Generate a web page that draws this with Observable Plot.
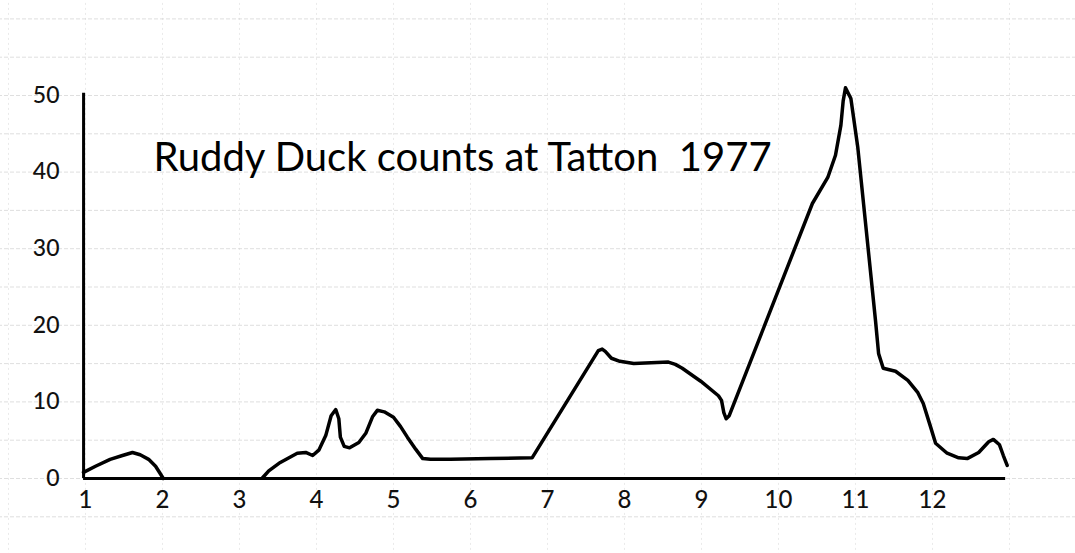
<!DOCTYPE html>
<html>
<head>
<meta charset="utf-8">
<script src="https://cdn.jsdelivr.net/npm/d3@7"></script>
<script src="https://cdn.jsdelivr.net/npm/@observablehq/plot@0.6"></script>
<style>
  html, body { margin: 0; padding: 0; background: #fff; }
  svg { display: block; }
</style>
</head>
<body>
<div id="chart"></div>
<script>
// Chart title
const title = "Ruddy Duck counts at Tatton  1977";

// Month position (1 = January ... 12 = December, fractional = within month) — hand-read
const months = [
  0.974, 1.13, 1.32, 1.48, 1.61, 1.71, 1.82, 1.91, 1.97, 2.01,
  null,
  3.30, 3.38, 3.53, 3.75, 3.86, 3.95, 4.03, 4.12, 4.19, 4.25, 4.29, 4.31, 4.36, 4.43, 4.55,
  4.64, 4.73, 4.79, 4.88, 5.0, 5.09, 5.18, 5.29, 5.38, 5.48, 5.74, 6.26, 6.80,
  7.66, 7.71, 7.75, 7.83, 7.94, 8.12, 8.57, 8.66, 8.75, 8.99, 9.22, 9.26, 9.29, 9.32, 9.36,
  10.44, 10.64, 10.74, 10.81, 10.84, 10.87,
  10.94, 11.03, 11.14, 11.26, 11.30, 11.36, 11.52, 11.68, 11.81, 11.88, 11.97, 12.04,
  12.19, 12.34, 12.45, 12.60, 12.73, 12.79, 12.87, 12.92, 12.97
];
// Ruddy duck counts (null = no line drawn)
const counts = [
  0.8, 1.6, 2.5, 3.0, 3.4, 3.1, 2.5, 1.6, 0.65, 0,
  null,
  0.1, 1.0, 2.1, 3.3, 3.4, 3.0, 3.7, 5.6, 8.2, 9.0, 7.8, 5.4, 4.2, 4.0, 4.7,
  5.9, 8.1, 8.9, 8.7, 8.0, 6.8, 5.4, 3.8, 2.6, 2.5, 2.5, 2.6, 2.7,
  16.7, 16.9, 16.6, 15.7, 15.3, 15.0, 15.2, 14.9, 14.4, 12.7, 10.8, 10.2, 8.6, 7.8, 8.2,
  35.9, 39.3, 42.2, 46.1, 49.3, 51.0,
  49.6, 43.2, 32.4, 20.6, 16.3, 14.4, 14.0, 12.8, 11.2, 9.8, 6.9, 4.6,
  3.3, 2.7, 2.6, 3.4, 4.8, 5.1, 4.4, 3.0, 1.7
];

// Tick labels
const xTicks = [1,2,3,4,5,6,7,8,9,10,11,12];
const yTicks = [0,10,20,30,40,50];

// Axis extents (hand-drawn axes)
const xAxisExtent = [0.975, 12.95];
const yAxisExtent = [0, 50.3];

// Graph-paper grid
const paperRows = d3.range(-10, 65, 5);
const paperCols = d3.range(0, 15, 1);

const data = months.map((m, i) => ({month: m, count: counts[i]}));

const font = "Lato, 'Noto Sans', sans-serif";

const chart = Plot.plot({
  width: 1075,
  height: 553,
  marginLeft: 83,
  marginRight: 0,
  marginTop: 0,
  marginBottom: 75,
  style: {fontFamily: font, background: "#fff", color: "#111"},
  x: {domain: [1, 12], range: [85, 932]},
  y: {domain: [0, 50], range: [478, 95]},
  marks: [
    // faint graph-paper lines
    Plot.ruleY(paperRows, {x1: -2, x2: 15, stroke: "#c4c4c4", strokeWidth: 1, strokeDasharray: "4,2", strokeOpacity: 0.55}),
    Plot.ruleX(paperCols, {y1: -12, y2: 65, stroke: "#d0d0d0", strokeWidth: 1, strokeDasharray: "2,3", strokeOpacity: 0.45}),
    // hand-drawn axes
    Plot.ruleY([0], {x1: xAxisExtent[0], x2: xAxisExtent[1], stroke: "#000", strokeWidth: 3}),
    Plot.ruleX([xAxisExtent[0]], {y1: yAxisExtent[0], y2: yAxisExtent[1], stroke: "#000", strokeWidth: 3}),
    Plot.axisY(yTicks, {anchor: "left", tickSize: 0, tickPadding: 24, fontSize: 23, fontWeight: 500, label: null, tickFormat: d => String(d)}),
    Plot.axisX(xTicks, {anchor: "bottom", tickSize: 0, tickPadding: 12, fontSize: 24, fontWeight: 500, label: null, tickFormat: d => String(d)}),
    // the count curve
    Plot.line(data, {x: "month", y: "count", curve: "linear", stroke: "#000", strokeWidth: 3.5, strokeLinejoin: "round", strokeLinecap: "round"}),
    // title written on the paper
    Plot.text([title], {frameAnchor: "top-left", dx: 70, dy: 158, textAnchor: "start", lineAnchor: "middle", fontSize: 40, fill: "#000"})
  ]
});

document.getElementById("chart").appendChild(chart);
</script>
</body>
</html>
